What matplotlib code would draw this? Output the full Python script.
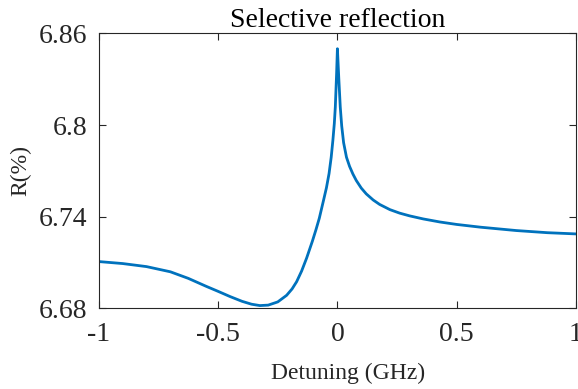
import matplotlib
matplotlib.use("Agg")
import matplotlib.pyplot as plt

detuning = [-1.0, -0.9, -0.8, -0.7, -0.625, -0.55, -0.5, -0.45, -0.4, -0.36,
            -0.325, -0.29, -0.25, -0.213, -0.19, -0.171, -0.15, -0.129, -0.105,
            -0.09, -0.076, -0.058, -0.046, -0.035, -0.026, -0.019, -0.013,
            -0.0088, -0.0034, 0.0, 0.006, 0.012, 0.018, 0.026, 0.038, 0.051,
            0.065, 0.079, 0.1, 0.121, 0.15, 0.177, 0.22, 0.261, 0.303, 0.36,
            0.43, 0.5, 0.6, 0.75, 0.88, 1.0]
reflect = [6.7107, 6.7094, 6.7074, 6.7040, 6.6997, 6.6945, 6.6912, 6.6878,
           6.6847, 6.6828, 6.6819, 6.6822, 6.6843, 6.6886, 6.6928, 6.6975,
           6.7045, 6.7130, 6.7240, 6.7315, 6.7390, 6.7509, 6.7590, 6.7683,
           6.7790, 6.7900, 6.8010, 6.8118, 6.8336, 6.8500, 6.8300, 6.8118,
           6.7995, 6.7885, 6.7790, 6.7730, 6.7680, 6.7638, 6.7588, 6.7550,
           6.7510, 6.7481, 6.7447, 6.7424, 6.7406, 6.7386, 6.7366, 6.7350,
           6.7332, 6.7310, 6.7296, 6.7288]

xticks = [-1, -0.5, 0, 0.5, 1]
xticklabels = ["-1", "-0.5", "0", "0.5", "1"]
yticks = [6.68, 6.74, 6.8, 6.86]
yticklabels = ["6.68", "6.74", "6.8", "6.86"]

plt.rcParams['font.family'] = ['Liberation Serif', 'DejaVu Serif']
plt.rcParams['axes.unicode_minus'] = False

fig = plt.figure(figsize=(5.78, 3.89), dpi=100)
ax = fig.add_axes([0.171, 0.207, 0.8255, 0.707])
ax.plot(detuning, reflect, color='#0072BD', lw=2, solid_joinstyle='round')
ax.set_xlim(-1, 1)
ax.set_ylim(6.68, 6.86)
ax.set_xticks(xticks)
ax.set_xticklabels(xticklabels)
ax.set_yticks(yticks)
ax.set_yticklabels(yticklabels)
ax.tick_params(direction='in', top=True, right=True, length=5, width=0.8,
               colors='#262626', labelsize=20)
ax.tick_params(axis='x', pad=10)
ax.tick_params(axis='y', pad=8)
for s in ax.spines.values():
    s.set_color('#262626')
    s.set_linewidth(0.8)
ax.set_xlabel('Detuning (GHz)', fontsize=17, color='#262626', labelpad=11)
ax.xaxis.label.set_x(0.522)
ax.set_ylabel('R(%)', fontsize=17, color='#262626', labelpad=6)
ax.set_title('Selective reflection', fontsize=20, color='#000000', pad=5)
fig.savefig('out.png', dpi=100)
